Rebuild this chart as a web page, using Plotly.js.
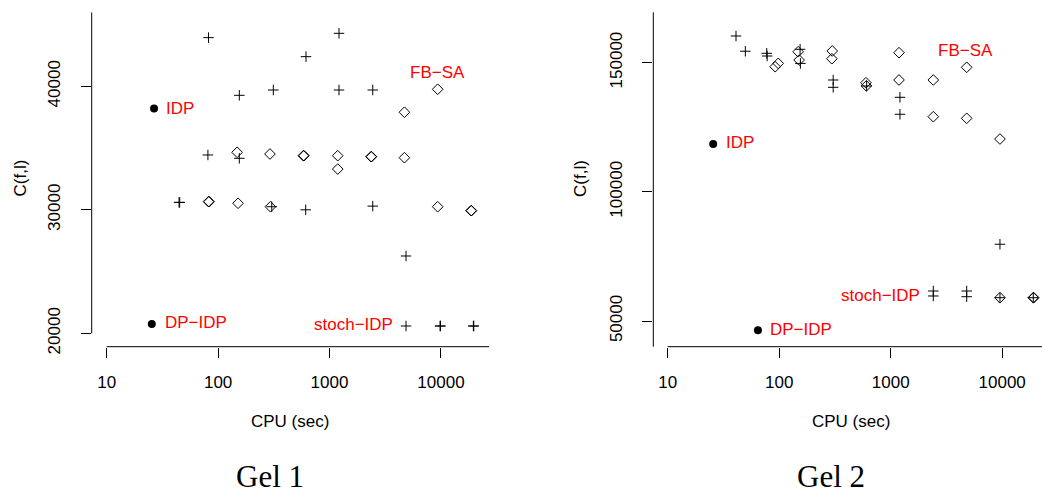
<!DOCTYPE html>
<html>
<head>
<meta charset="utf-8">
<script src="https://cdn.plot.ly/plotly-3.0.1.min.js"></script>
<style>html,body{margin:0;padding:0;background:#fff;}#chart{width:1042px;height:495px;}</style>
</head>
<body>
<div id="chart"></div>
<script>
// ---------- Gel 1 ----------
const gel1_idp_x = [26.6];
const gel1_idp_y = [38200];
const gel1_dpidp_x = [25.4];
const gel1_dpidp_y = [20750];
const gel1_stoch_x = [82, 1216, 615, 155, 313, 1216, 2443, 81, 155, 44.6, 45.2, 303, 611, 2443, 4860, 4860, 9820, 9900, 19540, 19700];
const gel1_stoch_y = [43940, 44290, 42400, 39270, 39700, 39700, 39700, 34440, 34170, 30600, 30600, 30250, 30000, 30300, 26260, 20590, 20590, 20590, 20590, 20590];
const gel1_fbsa_x = [9350, 4700, 148, 292, 582, 590, 1185, 1185, 2358, 2380, 4700, 82, 83, 151, 295, 9350, 18620, 18800];
const gel1_fbsa_y = [39760, 37900, 34660, 34520, 34380, 34380, 34380, 33300, 34300, 34300, 34220, 30660, 30660, 30530, 30250, 30250, 29930, 29930];

// ---------- Gel 2 ----------
const gel2_idp_x = [25.6];
const gel2_idp_y = [118500];
const gel2_dpidp_x = [64.5];
const gel2_dpidp_y = [46400];
const gel2_stoch_x = [41, 49.7, 77.3, 78, 154, 155, 305, 305, 609, 1211, 1211, 9550, 2410, 2410, 4804, 4804, 9550, 19000];
const gel2_stoch_y = [160300, 154400, 153600, 152550, 155150, 149700, 143270, 140440, 140940, 136570, 130000, 79700, 61610, 59680, 61610, 59400, 59020, 59020];
const gel2_fbsa_x = [92, 98, 148, 151, 299, 297, 600, 605, 1187, 1187, 2410, 2410, 4804, 4804, 9550, 9550, 19000, 19150];
const gel2_fbsa_y = [148400, 149700, 154200, 151000, 154500, 151500, 142200, 141000, 153830, 143270, 143270, 129060, 148180, 128440, 120430, 59020, 59020, 59020];

// ---------- ticks / labels ----------
const x_tickvals = [10, 100, 1000, 10000];
const x_ticktext = ['10', '100', '1000', '10000'];
const gel1_y_tickvals = [20000, 30000, 40000];
const gel1_y_ticktext = ['20000', '30000', '40000'];
const gel2_y_tickvals = [50000, 100000, 150000];
const gel2_y_ticktext = ['50000', '100000', '150000'];
const panel_titles = ['Gel 1', 'Gel 2'];
const x_title = 'CPU (sec)';
const y_title = 'C(f,l)';
const method_names = ['IDP', 'DP\u2212IDP', 'FB\u2212SA', 'stoch\u2212IDP'];

const SANS = 'Liberation Sans, Arial, Helvetica, sans-serif';
const FS = 17;

function pts(x, y, xa, ya, symbol, size, filled, name) {
  return {
    type: 'scatter', mode: 'markers', x: x, y: y, xaxis: xa, yaxis: ya,
    name: name, showlegend: false, cliponaxis: false, hoverinfo: 'x+y',
    marker: filled
      ? {symbol: symbol, size: size, color: '#000', line: {width: 0}}
      : {symbol: symbol, size: size, color: '#000', line: {width: 1, color: '#000'}}
  };
}

const data = [
  pts(gel1_stoch_x, gel1_stoch_y, 'x', 'y', 'cross-thin-open', 7.5, false, method_names[3]),
  pts(gel1_fbsa_x, gel1_fbsa_y, 'x', 'y', 'diamond-open', 8.2, false, method_names[2]),
  pts(gel1_idp_x, gel1_idp_y, 'x', 'y', 'circle', 8, true, method_names[0]),
  pts(gel1_dpidp_x, gel1_dpidp_y, 'x', 'y', 'circle', 8, true, method_names[1]),
  pts(gel2_stoch_x, gel2_stoch_y, 'x2', 'y2', 'cross-thin-open', 7.5, false, method_names[3]),
  pts(gel2_fbsa_x, gel2_fbsa_y, 'x2', 'y2', 'diamond-open', 8.2, false, method_names[2]),
  pts(gel2_idp_x, gel2_idp_y, 'x2', 'y2', 'circle', 8, true, method_names[0]),
  pts(gel2_dpidp_x, gel2_dpidp_y, 'x2', 'y2', 'circle', 8, true, method_names[1])
];

const W = 1042, H = 495;
const px = v => v / W;
const py = v => 1 - v / H;

const yDom = [py(346.7), py(12.3)];

function xaxisDef(domain, range, anchor) {
  return {
    type: 'log', domain: domain, range: range, anchor: anchor,
    showgrid: false, zeroline: false, showline: false,
    ticks: 'outside', ticklen: 10, tickwidth: 1, tickcolor: '#000',
    tickvals: x_tickvals, ticktext: x_ticktext,
    tickfont: {family: SANS, size: FS, color: '#000'},
    ticklabelstandoff: 10
  };
}
function yaxisDef(range, anchor, tv, tt) {
  return {
    domain: yDom, range: range, anchor: anchor,
    showgrid: false, zeroline: false, showline: false,
    ticks: 'outside', ticklen: 10, tickwidth: 1, tickcolor: '#000',
    tickvals: tv, ticktext: tt, tickangle: -90,
    tickfont: {family: SANS, size: FS, color: '#000'},
    ticklabelstandoff: 14
  };
}

const red = {family: SANS, size: FS, color: '#ff0000'};
function lab(text, x, y, xa, ya, anchor) {
  return {text: text, x: Math.log10(x), y: y, xref: xa, yref: ya,
          xanchor: anchor, yanchor: 'middle', showarrow: false, font: red};
}

const SERIF = 'Liberation Serif, Times New Roman, serif';
const annotations = [
  lab(method_names[0], 32.9, 38200, 'x', 'y', 'left'),
  lab(method_names[1], 31.8, 20850, 'x', 'y', 'left'),
  lab(method_names[2], 9322, 41100, 'x', 'y', 'center'),
  lab(method_names[3], 3873, 20750, 'x', 'y', 'right'),
  lab(method_names[0], 32, 119000, 'x2', 'y2', 'left'),
  lab(method_names[1], 79.8, 46900, 'x2', 'y2', 'left'),
  lab(method_names[2], 4732, 154500, 'x2', 'y2', 'center'),
  lab(method_names[3], 1920, 59700, 'x2', 'y2', 'right'),
  // axis titles
  {text: x_title, xref: 'paper', yref: 'paper', x: px(290), y: py(421.7), xanchor: 'center', yanchor: 'middle', showarrow: false, font: {family: SANS, size: FS, color: '#000'}},
  {text: x_title, xref: 'paper', yref: 'paper', x: px(850.5), y: py(421.7), xanchor: 'center', yanchor: 'middle', showarrow: false, font: {family: SANS, size: FS, color: '#000'}},
  {text: y_title, xref: 'paper', yref: 'paper', x: px(20), y: py(178.5), xanchor: 'center', yanchor: 'middle', textangle: -90, showarrow: false, font: {family: SANS, size: FS, color: '#000'}},
  {text: y_title, xref: 'paper', yref: 'paper', x: px(580.5), y: py(178.5), xanchor: 'center', yanchor: 'middle', textangle: -90, showarrow: false, font: {family: SANS, size: FS, color: '#000'}},
  // panel captions
  {text: panel_titles[0], xref: 'paper', yref: 'paper', x: px(270), y: 0, xanchor: 'center', yanchor: 'bottom', borderpad: 0, showarrow: false, font: {family: SERIF, size: 31, color: '#000'}},
  {text: panel_titles[1], xref: 'paper', yref: 'paper', x: px(830.6), y: 0, xanchor: 'center', yanchor: 'bottom', borderpad: 0, showarrow: false, font: {family: SERIF, size: 31, color: '#000'}}
];

const lineStyle = {color: '#000', width: 1};
const shapes = [
  // Gel 1 axis lines
  {type: 'line', xref: 'x', yref: 'paper', x0: 10, x1: 27160, y0: yDom[0], y1: yDom[0], line: lineStyle},
  {type: 'line', xref: 'paper', yref: 'y', x0: px(91.7), x1: px(91.7), y0: 20000, y1: 45990, line: lineStyle},
  // Gel 2 axis lines
  {type: 'line', xref: 'x2', yref: 'paper', x0: 10, x1: 22750, y0: yDom[0], y1: yDom[0], line: lineStyle},
  {type: 'line', xref: 'paper', yref: 'paper', x0: px(653.3), x1: px(653.3), y0: yDom[0], y1: yDom[1], line: lineStyle}
];

const layout = {
  width: W, height: H,
  margin: {l: 0, r: 0, t: 0, b: 0, pad: 0},
  paper_bgcolor: '#fff', plot_bgcolor: 'rgba(0,0,0,0)',
  showlegend: false,
  xaxis: xaxisDef([px(91.7), px(489.3)], [0.8654, 4.434], 'y'),
  yaxis: yaxisDef([18915, 45992], 'x', gel1_y_tickvals, gel1_y_ticktext),
  xaxis2: xaxisDef([px(653.3), 1], [0.871, 4.357], 'y2'),
  yaxis2: yaxisDef([40054, 169466], 'x2', gel2_y_tickvals, gel2_y_ticktext),
  annotations: annotations,
  shapes: shapes
};

Plotly.newPlot('chart', data, layout, {displayModeBar: false, staticPlot: true});
</script>
</body>
</html>
